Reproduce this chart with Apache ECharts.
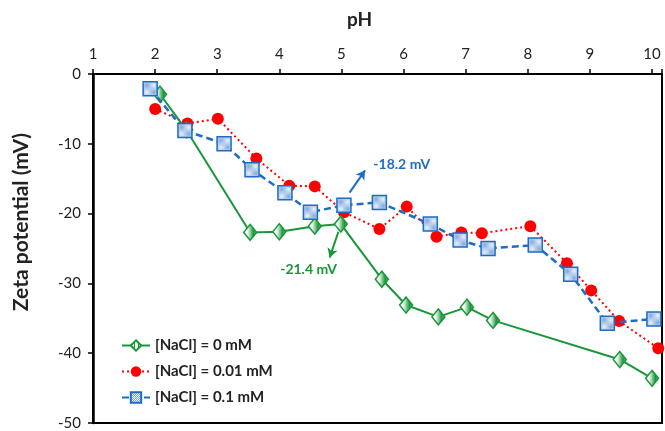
<!DOCTYPE html>
<html>
<head>
<meta charset="utf-8">
<script src="https://cdn.jsdelivr.net/npm/echarts@6/dist/echarts.min.js"></script>
<style>
html,body{margin:0;padding:0;background:#fff;}
#main{width:665px;height:431px;}
</style>
</head>
<body>
<div id="main"></div>
<script>
// ---- Data ----
var seriesNames = ['[NaCl] = 0 mM', '[NaCl] = 0.01 mM', '[NaCl] = 0.1 mM'];
var pH0 = [2.08, 2.50, 3.53, 4.00, 4.57, 4.99, 5.65, 6.04, 6.56, 7.02, 7.44, 9.48, 10.00];
var zeta0 = [-2.9, -8.0, -22.7, -22.6, -21.8, -21.5, -29.4, -33.1, -34.8, -33.4, -35.3, -40.9, -43.6];
var pH001 = [2.00, 2.52, 3.01, 3.63, 4.16, 4.57, 5.04, 5.61, 6.05, 6.53, 6.93, 7.26, 8.04, 8.63, 9.02, 9.47, 10.10];
var zeta001 = [-5.0, -7.1, -6.4, -12.1, -16.0, -16.1, -19.8, -22.2, -19.0, -23.3, -22.7, -22.8, -21.8, -27.1, -31.0, -35.4, -39.3];
var pH01 = [1.92, 2.48, 3.11, 3.56, 4.09, 4.50, 5.04, 5.61, 6.43, 6.91, 7.36, 8.12, 8.69, 9.28, 10.03];
var zeta01 = [-2.1, -8.1, -10.0, -13.7, -17.0, -19.8, -18.8, -18.4, -21.5, -23.8, -25.0, -24.5, -28.7, -35.7, -35.1];
var xTicks = [1, 2, 3, 4, 5, 6, 7, 8, 9, 10];
var yTicks = [0, -10, -20, -30, -40, -50];
// annotations: [arrow start x, y, arrow end x, y, label x, y, text]
var annBlue = [5.13, -17.0, 5.38, -13.8, 5.97, -13.0, '-18.2 mV'];
var annGreen = [4.95, -22.6, 4.81, -26.3, 4.47, -28.0, '-21.4 mV'];

// ---- Styles ----
var GREEN = '#17973a', RED = '#ff0000', BLUE = '#1e6cc4';
function makePattern(kind) {
  var c = document.createElement('canvas');
  var ctx = c.getContext('2d');
  if (kind === 'stripes') {
    c.width = 4; c.height = 4;
    ctx.fillStyle = '#ffffff'; ctx.fillRect(0, 0, 4, 4);
    ctx.fillStyle = GREEN; ctx.fillRect(0, 0, 1, 4);
  } else {
    c.width = 2; c.height = 2;
    ctx.fillStyle = '#eef4fc'; ctx.fillRect(0, 0, 2, 2);
    ctx.fillStyle = '#7ea6dc'; ctx.fillRect(0, 0, 1, 1); ctx.fillRect(1, 1, 1, 1);
  }
  return { image: c, repeat: 'repeat' };
}
var greenFill = makePattern('stripes');
var blueFill = makePattern('dots');

function zip(xs, ys) { return xs.map(function (x, i) { return [x, ys[i]]; }); }
var FONT = 'Lato, "Open Sans", "Liberation Sans", sans-serif';
function arrowLine(a, color) {
  return {
    silent: true, animation: false,
    symbol: ['none', 'arrow'], symbolSize: [8, 9],
    lineStyle: { color: color, width: 2, type: 'solid' },
    label: { show: false },
    data: [[{ coord: [a[0], a[1]] }, { coord: [a[2], a[3]] }]]
  };
}
function textPoint(a, color) {
  return {
    silent: true, animation: false,
    symbol: 'circle', symbolSize: 1,
    itemStyle: { color: 'rgba(0,0,0,0)' },
    label: { show: true, position: 'inside', formatter: a[6], color: color, fontWeight: 'bold', fontSize: 14, fontFamily: FONT },
    data: [{ coord: [a[4], a[5]] }]
  };
}

var chart = echarts.init(document.getElementById('main'), null, { renderer: 'canvas' });
chart.setOption({
  animation: false,
  backgroundColor: '#ffffff',
  title: {
    text: 'pH', left: 342, top: 5,
    textStyle: { fontSize: 19, fontWeight: 'bold', color: '#222', fontFamily: FONT }
  },
  graphic: [{
    type: 'text', left: 11, top: 133, rotation: Math.PI / 2,
    style: { text: 'Zeta potential (mV)', fill: '#222', font: 'bold 21px ' + FONT }
  }],
  grid: { left: 93, right: 2, top: 74, bottom: 8, show: true, borderColor: '#000', borderWidth: 2, backgroundColor: 'transparent' },
  legend: {
    orient: 'vertical', left: 116, top: 333, itemGap: 11, itemWidth: 28, itemHeight: 13,
    data: seriesNames,
    textStyle: { fontSize: 15, fontWeight: 'bold', color: '#222', fontFamily: FONT }
  },
  xAxis: {
    type: 'value', position: 'top', min: xTicks[0], max: 10.16, interval: 1,
    axisLine: { show: true, onZero: false, lineStyle: { color: '#000', width: 2 } },
    axisTick: { show: true, length: 5, lineStyle: { color: '#000', width: 1.5 } },
    axisLabel: {
      margin: 12, fontSize: 15, color: '#222', fontFamily: FONT,
      formatter: function (v) { return xTicks.indexOf(v) >= 0 ? String(v) : ''; }
    },
    splitLine: { show: false }
  },
  yAxis: {
    type: 'value', min: yTicks[yTicks.length - 1], max: yTicks[0], interval: 10,
    axisLine: { show: true, onZero: false, lineStyle: { color: '#000', width: 2.5 } },
    axisTick: { show: true, length: 5, lineStyle: { color: '#000', width: 1.5 } },
    axisLabel: { margin: 12, fontSize: 15, color: '#222', fontFamily: FONT },
    splitLine: { show: false }
  },
  series: [
    {
      name: seriesNames[0], type: 'line', data: zip(pH0, zeta0), z: 3,
      symbol: 'diamond', symbolSize: [13, 16],
      lineStyle: { color: GREEN, width: 2, type: 'solid' },
      itemStyle: { color: greenFill, borderColor: GREEN, borderWidth: 1.5 },
      markLine: arrowLine(annGreen, GREEN),
      markPoint: textPoint(annGreen, GREEN)
    },
    {
      name: seriesNames[1], type: 'line', data: zip(pH001, zeta001), z: 2,
      symbol: 'circle', symbolSize: 12,
      lineStyle: { color: RED, width: 2, type: [2, 3] },
      itemStyle: { color: RED, borderColor: RED, borderWidth: 0 }
    },
    {
      name: seriesNames[2], type: 'line', data: zip(pH01, zeta01), z: 4,
      symbol: 'rect', symbolSize: 14,
      lineStyle: { color: BLUE, width: 2.5, type: [7, 4] },
      itemStyle: { color: blueFill, borderColor: BLUE, borderWidth: 1.5 },
      markLine: arrowLine(annBlue, BLUE),
      markPoint: textPoint(annBlue, BLUE)
    }
  ]
});
</script>
</body>
</html>
